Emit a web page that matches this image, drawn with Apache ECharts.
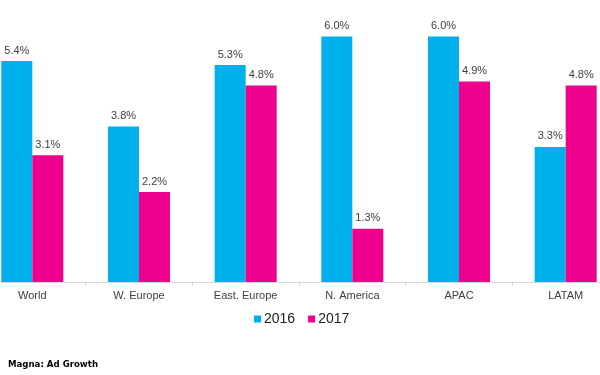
<!DOCTYPE html>
<html>
<head>
<meta charset="utf-8">
<script src="https://cdn.jsdelivr.net/npm/echarts@6/dist/echarts.min.js"></script>
<style>
  html, body { margin: 0; padding: 0; background: #fff; overflow: hidden; }
  /* 画布比窗口宽, 两侧类目被裁掉一部分, 与原图一致 */
  #chart { width: 640px; height: 375px; position: relative; left: -21px; }
</style>
</head>
<body>
<div id="chart"></div>
<script>
// 地区与两年的广告增长率 (%)
const regions = ["World", "W. Europe", "East. Europe", "N. America", "APAC", "LATAM"];
const growth2016 = [5.4, 3.8, 5.3, 6.0, 6.0, 3.3];
const growth2017 = [3.1, 2.2, 4.8, 1.3, 4.9, 4.8];
const seriesNames = ["2016", "2017"];

const colors = ["#00B0EA", "#EC008C"];

const chart = echarts.init(document.getElementById("chart"));

const labelStyle = {
  show: true,
  position: "top",
  distance: 5,
  color: "#404040",
  fontSize: 11,
  fontFamily: "Liberation Sans, Arial, sans-serif",
  formatter: (p) => p.value.toFixed(1) + "%",
};

chart.setOption({
  animation: false,
  title: {
    left: 24,
    top: 355,
    text: "{b|Magna}{n|: }{b|Ad Growth}",
    textStyle: {
      rich: {
        b: { fontSize: 8.6, fontWeight: "bold", color: "#000", fontFamily: "DejaVu Sans" },
        n: { fontSize: 8.6, color: "#000", fontFamily: "DejaVu Sans" },
      },
    },
  },
  legend: {
    top: 307,
    left: 270,
    itemWidth: 7,
    itemHeight: 7,
    itemGap: 13,
    icon: "rect",
    textStyle: { fontSize: 14, color: "#222", fontFamily: "Liberation Sans, Arial, sans-serif", padding: [0, 0, 0, -2] },
    data: seriesNames,
  },
  grid: {
    left: 0,
    right: 0,
    top: 16,
    bottom: 93,
    containLabel: false,
  },
  xAxis: {
    type: "category",
    data: regions,
    axisLine: { lineStyle: { color: "#D9D9D9" } },
    axisTick: { show: true, lineStyle: { color: "#D9D9D9" }, length: 4 },
    axisLabel: {
      color: "#404040",
      fontSize: 11,
      fontFamily: "Liberation Sans, Arial, sans-serif",
      margin: 8,
      interval: 0,
    },
  },
  yAxis: {
    type: "value",
    min: 0,
    max: 6.5,
    show: false,
    splitLine: { show: false },
  },
  series: [
    {
      name: seriesNames[0],
      type: "bar",
      data: growth2016,
      barWidth: 31,
      barGap: "0%",
      itemStyle: { color: colors[0] },
      label: labelStyle,
    },
    {
      name: seriesNames[1],
      type: "bar",
      data: growth2017,
      barWidth: 31,
      barGap: "0%",
      itemStyle: { color: colors[1] },
      label: labelStyle,
    },
  ],
});
</script>
</body>
</html>
